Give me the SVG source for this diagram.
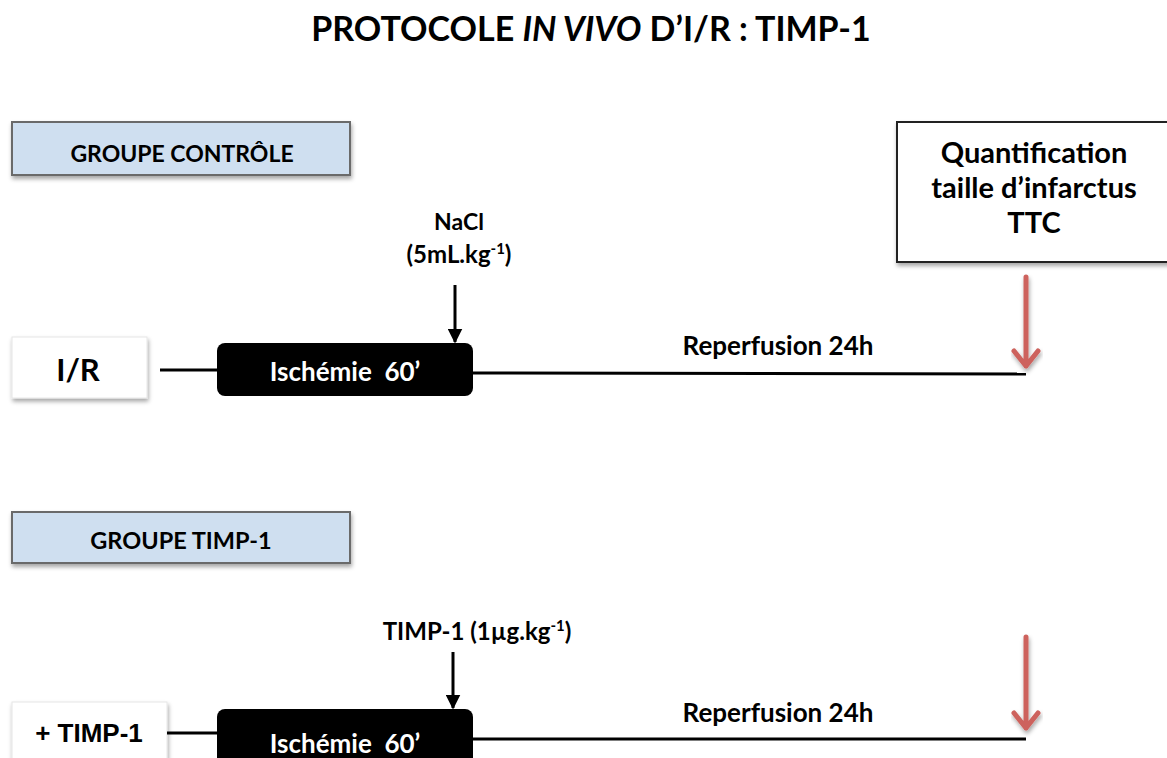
<svg xmlns="http://www.w3.org/2000/svg" width="1167" height="758" viewBox="0 0 1167 758">
<defs>
<filter id="sh" x="-10%" y="-10%" width="130%" height="140%">
<feDropShadow dx="1" dy="3" stdDeviation="2" flood-color="#000" flood-opacity="0.35"/>
</filter>
<marker id="ab" viewBox="0 0 10 10" refX="9" refY="5" markerWidth="5" markerHeight="5" orient="auto" markerUnits="strokeWidth">
<path d="M0,0 L10,5 L0,10 Z" fill="#000"/>
</marker>
</defs>
<style>
text{font-family:Lato,"Open Sans","Liberation Sans",sans-serif;font-weight:bold;fill:#000;text-anchor:middle}
.grp{fill:#cfdff0;stroke:#6b6b6b;stroke-width:2;filter:url(#sh)}
.wbox{fill:#fff;stroke:#e6e6e6;stroke-width:1;filter:url(#sh)}
.isch{fill:#000}
.w{fill:#fff}
.ln{stroke:#000;stroke-width:3;fill:none}
.red{stroke:#cd625d;stroke-width:5;fill:none;stroke-linecap:round;stroke-linejoin:round;filter:url(#sh)}
.ar{stroke:#000;stroke-width:3;fill:none;marker-end:url(#ab)}
.q{font-size:29px}
</style>
<rect width="1167" height="758" fill="#fff"/>
<text x="591" y="41" font-size="34">PROTOCOLE <tspan font-style="italic">IN VIVO</tspan> D’I/R : TIMP-1</text>

<g id="groupe-controle">
<rect class="grp" x="12" y="122" width="338" height="53"/>
<text x="182" y="162" font-size="23">GROUPE CONTRÔLE</text>
</g>

<g id="quantification">
<rect x="897" y="122" width="275" height="140" fill="#fff" stroke="#222" stroke-width="2" filter="url(#sh)"/>
<text class="q" x="1034" y="163">Quantification</text>
<text class="q" x="1034" y="198">taille d’infarctus</text>
<text class="q" x="1034" y="233">TTC</text>
</g>

<g id="ir">
<rect class="wbox" x="12" y="337" width="135" height="61"/>
<text x="78" y="381" font-size="31">I/R</text>
</g>

<g id="ischemie-1">
<rect class="isch" x="217" y="343" width="256" height="53" rx="8"/>
<text class="w" x="345" y="381" font-size="26">Ischémie&#160; 60’</text>
</g>

<g id="nacl">
<text x="459" y="230" font-size="23">NaCl</text>
<text x="459" y="263" font-size="24">(5mL.kg<tspan font-size="15" dy="-9">-1</tspan><tspan dy="9">)</tspan></text>
</g>

<g id="reperfusion-1">
<text x="778" y="355" font-size="26">Reperfusion 24h</text>
</g>

<g id="groupe-timp">
<rect class="grp" x="12" y="512" width="338" height="51"/>
<text x="181" y="549" font-size="23.5">GROUPE TIMP-1</text>
</g>

<g id="timp-dose">
<text x="477" y="640" font-size="24">TIMP-1 (1µg.kg<tspan font-size="15" dy="-9">-1</tspan><tspan dy="9">)</tspan></text>
</g>

<g id="plus-timp">
<rect class="wbox" x="12" y="702" width="155" height="70"/>
<text x="89" y="742" font-size="26" style="font-family:'Liberation Sans',Arial,sans-serif">+ TIMP-1</text>
</g>

<g id="ischemie-2">
<rect class="isch" x="217" y="709" width="256" height="60" rx="8"/>
<text class="w" x="345" y="753" font-size="26">Ischémie&#160; 60’</text>
</g>

<g id="reperfusion-2">
<text x="778" y="722" font-size="26">Reperfusion 24h</text>
</g>

<g id="connectors">
<line class="ln" x1="160" y1="370" x2="217" y2="370"/>
<line class="ln" x1="473" y1="373" x2="1026" y2="374"/>
<line class="ar" x1="455" y1="285" x2="455" y2="342"/>
<path class="red" d="M1026,277 V366 M1014,351 L1026,366 L1038,351"/>
<line class="ln" x1="167" y1="733" x2="217" y2="733"/>
<line class="ln" x1="473" y1="739" x2="1026" y2="739"/>
<line class="ar" x1="453" y1="652" x2="453" y2="708"/>
<path class="red" d="M1026,637 V728 M1014,713 L1026,728 L1038,713"/>
</g>
</svg>
